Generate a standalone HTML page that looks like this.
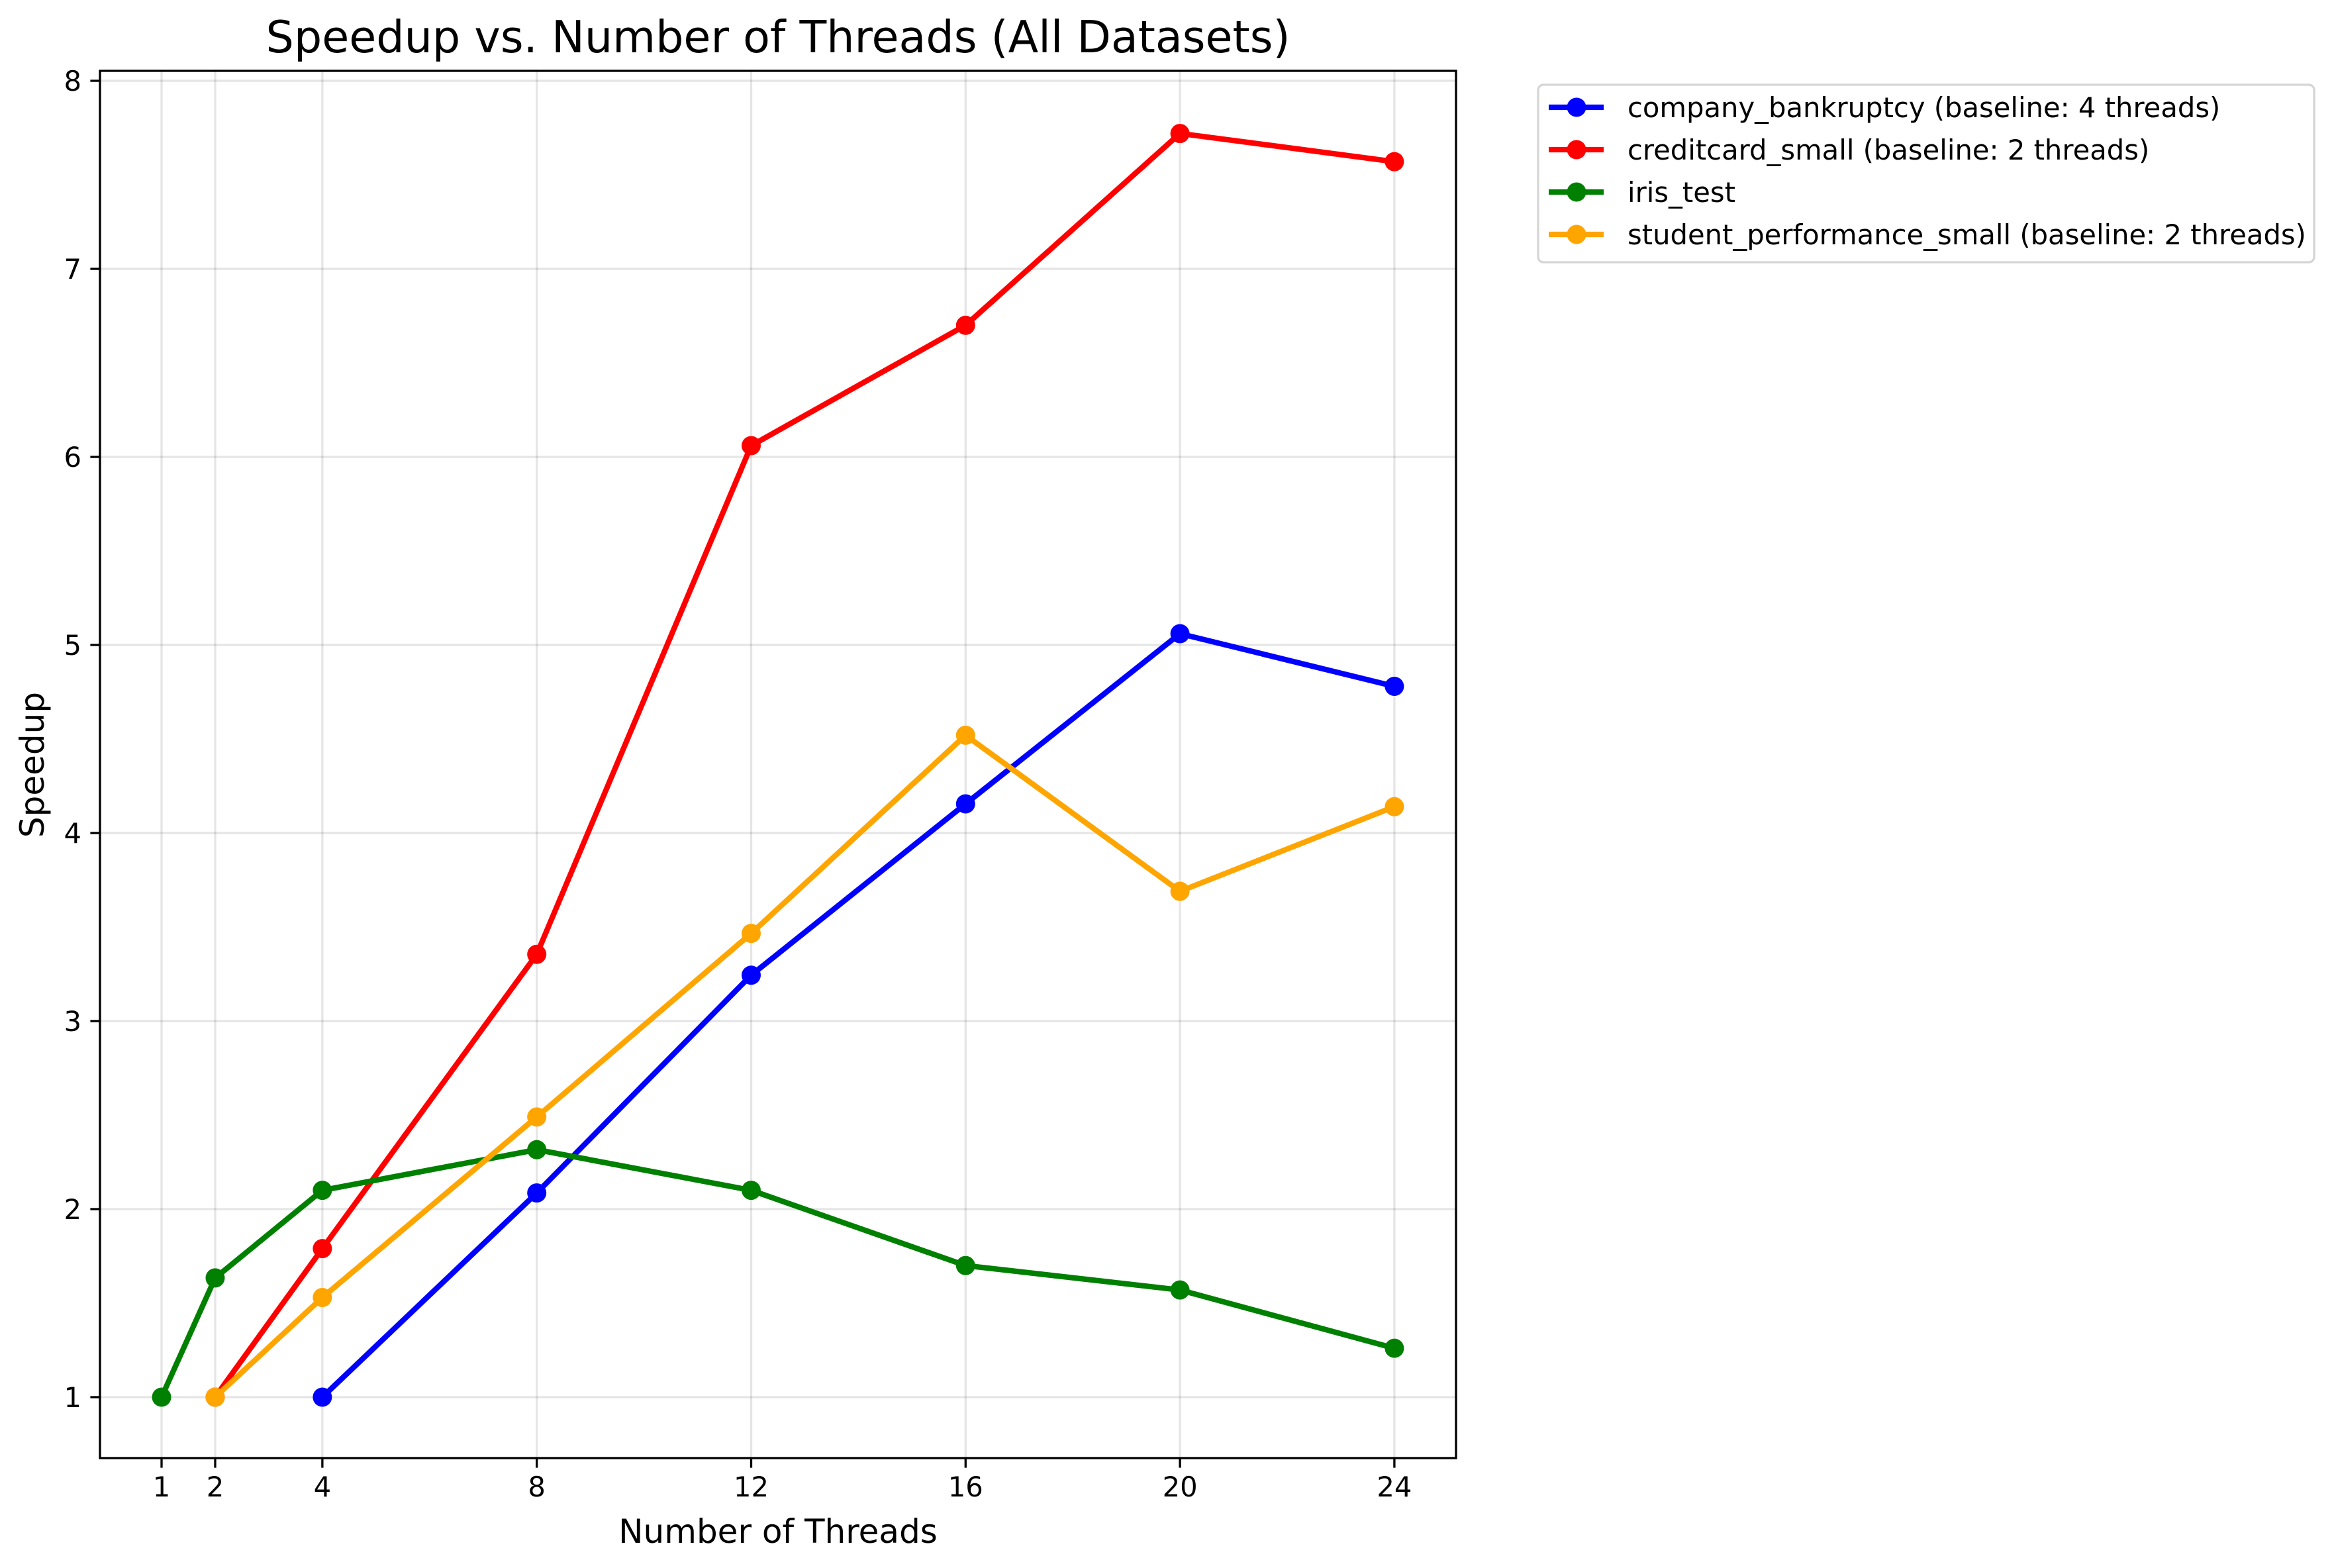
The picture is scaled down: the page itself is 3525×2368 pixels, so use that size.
<!DOCTYPE html>
<html><head><meta charset="utf-8"><style>
html,body{margin:0;padding:0;background:#fff}
svg{display:block;font-family:"DejaVu Sans","Liberation Sans",sans-serif}
</style></head><body>
<svg id="chart" xmlns="http://www.w3.org/2000/svg" width="3525" height="2368" viewBox="0 0 3525 2368">
<rect width="3525" height="2368" fill="#fff"/>
<g id="grid"></g>
<g id="series"></g>
<rect x="151" y="107" width="2048" height="2095" fill="none" stroke="#000" stroke-width="3.3"/>
<g id="ticks"></g>
<text x="1175" y="79" font-size="66.7" text-anchor="middle">Speedup vs. Number of Threads (All Datasets)</text>
<text x="1175" y="2330" font-size="50" text-anchor="middle">Number of Threads</text>
<text x="0" y="0" font-size="50" text-anchor="middle" transform="translate(66,1155) rotate(-90)">Speedup</text>
<g id="legend">
<rect x="2323" y="128" width="1172" height="268" rx="8" fill="#fff" stroke="#d5d5d5" stroke-width="3.3"/>
</g>
</svg>
<script>
const xTicks = [1, 2, 4, 8, 12, 16, 20, 24];
const yTicks = [1, 2, 3, 4, 5, 6, 7, 8];
const blueX = [4, 8, 12, 16, 20, 24];
const blueY = [1, 2.086, 3.244, 4.155, 5.06, 4.78];
const redX = [2, 4, 8, 12, 16, 20, 24];
const redY = [1, 1.79, 3.355, 6.06, 6.70, 7.72, 7.57];
const greenX = [1, 2, 4, 8, 12, 16, 20, 24];
const greenY = [1, 1.634, 2.10, 2.316, 2.10, 1.70, 1.57, 1.26];
const orangeX = [2, 4, 8, 12, 16, 20, 24];
const orangeY = [1, 1.53, 2.49, 3.466, 4.52, 3.69, 4.14];
const seriesNames = ["company_bankruptcy (baseline: 4 threads)", "creditcard_small (baseline: 2 threads)", "iris_test", "student_performance_small (baseline: 2 threads)"];

const NS = "http://www.w3.org/2000/svg";
const L = 151, R = 2199, T = 107, B = 2202;
const xMin = -0.149, xMax = 25.15, yMin = 0.676, yMax = 8.053;
function sx(v){ return L + (v - xMin) / (xMax - xMin) * (R - L); }
function sy(v){ return B - (v - yMin) / (yMax - yMin) * (B - T); }
function mk(tag, attrs, parent){ const e = document.createElementNS(NS, tag); for (const k in attrs) e.setAttribute(k, attrs[k]); parent.appendChild(e); return e; }

const grid = document.getElementById('grid');
const ticks = document.getElementById('ticks');
xTicks.forEach(v => {
  const g = mk('line', {x1: sx(v), x2: sx(v), y1: T, y2: B, stroke: '#000', 'stroke-opacity': 0.1, 'stroke-width': 3.3}, grid);
  
  
  const t = mk('line', {x1: sx(v), x2: sx(v), y1: B, y2: B + 14.6, stroke: '#000', 'stroke-width': 3.3}, ticks);
  
  
  const tx = mk('text', {x: sx(v), y: B + 58, 'font-size': 41.7, 'text-anchor': 'middle'}, ticks);
  tx.textContent = v;
  
  
});
yTicks.forEach(v => {
  const g = mk('line', {x1: L, x2: R, y1: sy(v), y2: sy(v), stroke: '#000', 'stroke-opacity': 0.1, 'stroke-width': 3.3}, grid);
  
  
  const t = mk('line', {x1: L - 14.6, x2: L, y1: sy(v), y2: sy(v), stroke: '#000', 'stroke-width': 3.3}, ticks);
  
  
  const tx = mk('text', {x: L - 28, y: sy(v) + 15, 'font-size': 41.7, 'text-anchor': 'end'}, ticks);
  tx.textContent = v;
  
  
});

const series = [
  {x: blueX, y: blueY, c: '#0000ff', n: 'company-bankruptcy'},
  {x: redX, y: redY, c: '#ff0000', n: 'creditcard-small'},
  {x: greenX, y: greenY, c: '#008000', n: 'iris-test'},
  {x: orangeX, y: orangeY, c: '#ffa500', n: 'student-performance-small'}
];
const sg = document.getElementById('series');
const lg = document.getElementById('legend');
series.forEach((s, i) => {
  const g = mk('g', {}, sg);
  
  
  const pts = s.x.map((v, j) => sx(v) + ',' + sy(s.y[j])).join(' ');
  const pl = mk('polyline', {points: pts, fill: 'none', stroke: s.c, 'stroke-width': 8.3, 'stroke-linejoin': 'round', 'stroke-linecap': 'square'}, g);
  
  
  s.x.forEach((v, j) => {
    const c = mk('circle', {cx: sx(v), cy: sy(s.y[j]), r: 14.5, fill: s.c}, g);
    
    
  });
  const ry = 162 + i * 64;
  const ln = mk('line', {x1: 2339, x2: 2422, y1: ry, y2: ry, stroke: s.c, 'stroke-width': 8.3}, lg);
  
  
  const lc = mk('circle', {cx: 2381, cy: ry, r: 14.5, fill: s.c}, lg);
  
  
  const lt = mk('text', {x: 2458, y: ry + 15, 'font-size': 41.7}, lg);
  lt.textContent = seriesNames[i];
  
  
});
</script>
</body></html>
